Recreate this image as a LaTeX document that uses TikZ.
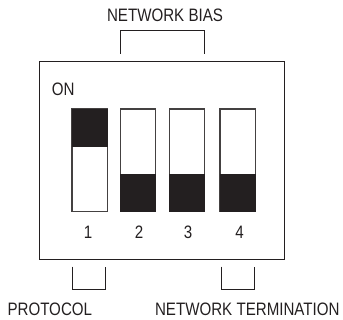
\documentclass[tikz,border=0pt]{standalone}
\usepackage{fontspec}
\setmainfont{Liberation Sans}[FakeStretch=0.84]
\definecolor{ink}{HTML}{231F20}
\begin{document}
\begin{tikzpicture}[x=1pt,y=-1pt,
  lbl/.style={inner sep=0pt,anchor=base,text=ink,font=\fontsize{18}{20}\selectfont},
  frame/.style={draw=ink,line width=1.2pt},
  swbox/.style={draw=ink!85,line width=1.1pt,fill=white},
  knob/.style={fill=ink}]
\useasboundingbox (0,0) rectangle (343,320);
% outer housing
\draw[frame] (39.3,61.3) rectangle (284.3,259.3);
% switches
\foreach \i/\xl in {1/72,2/120.3,3/169.3,4/220}{
  \draw[swbox] (\xl,109) rectangle ++(35.5,102.7);
}
\fill[knob] (72,109) rectangle ++(35.5,37.7);
\foreach \xl in {120.3,169.3,220}{
  \fill[knob] (\xl,174) rectangle ++(35.5,37.7);
}
% labels
\node[lbl] (bias) at (165,22) {NETWORK BIAS};
\node[lbl,anchor=base west] (on) at (51.7,96) {ON};
\node[lbl] (n1) at (88,238.3) {1};
\node[lbl] (n2) at (139,238.3) {2};
\node[lbl] (n3) at (188,238.3) {3};
\node[lbl] (n4) at (239.5,238.3) {4};
\node[lbl] (prot) at (49.8,316) {PROTOCOL};
\node[lbl] (term) at (247.3,316) {NETWORK TERMINATION};
% brackets
\draw[frame,line width=1pt] (120.3,54) -- (120.3,31) -- (204.3,31) -- (204.3,54);
\draw[frame,line width=1pt] (72,266.7) -- (72,290) -- (105.3,290) -- (105.3,266.7);
\draw[frame,line width=1pt] (221.7,266.7) -- (221.7,290) -- (254,290) -- (254,266.7);
\end{tikzpicture}
\end{document}
